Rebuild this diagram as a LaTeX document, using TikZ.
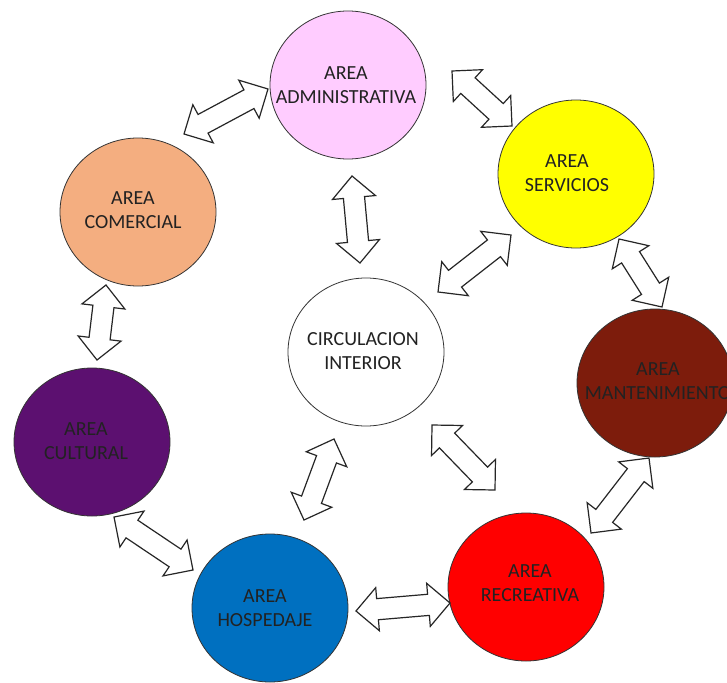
\documentclass[tikz,border=0pt]{standalone}
\usepackage{fontspec}
\setmainfont{Carlito}
\usetikzlibrary{shapes.geometric,shapes.arrows,calc}
\definecolor{cadm}{HTML}{FFCCFF}
\definecolor{cser}{HTML}{FFFF00}
\definecolor{ccom}{HTML}{F4AE80}
\definecolor{cman}{HTML}{7D1C0C}
\definecolor{ccul}{HTML}{5C1070}
\definecolor{crec}{HTML}{FF0000}
\definecolor{chos}{HTML}{0070C0}
\definecolor{ctxt}{HTML}{222222}
\newcommand\darr[3]{\path let \p1=($(#3)-(#2)$), \n1={veclen(\x1,\y1)} in (#2) -- node[darrow, minimum height=\n1] (#1) {} (#3);}
\begin{document}
\begin{tikzpicture}[x=1pt,y=-1pt,
  area/.style={ellipse, draw=black!80, line width=0.8pt, minimum width=156pt, minimum height=148pt, inner sep=0pt},
  lbl/.style={align=center, text=ctxt, font=\fontsize{20}{24}\selectfont, inner sep=0pt},
  darrow/.style={double arrow, draw=black!85, fill=white, line width=1.2pt, inner xsep=0pt, inner ysep=10pt,
    minimum width=0pt, double arrow head extend=11pt, double arrow tip angle=90, sloped, anchor=center}]
\fill[white] (0,0) rectangle (727,682);
\useasboundingbox (0,0) rectangle (727,682);
% circles
\node[area, fill=cadm] (adm) at (348,85) {};
\node[area, fill=cser] (ser) at (576,174) {};
\node[area, fill=ccom] (com) at (138,212) {};
\node[area, fill=white] (cir) at (366,352) {};
\node[area, fill=cman] (man) at (655,383) {};
\node[area, fill=ccul] (cul) at (92,442) {};
\node[area, fill=crec] (rec) at (526,587) {};
\node[area, fill=chos] (hos) at (270,608) {};
% labels
\node[lbl] (adm-t) at (346,85) {AREA\\ADMINISTRATIVA};
\node[lbl] (ser-t) at (567,173) {AREA\\SERVICIOS};
\node[lbl] (com-t) at (133,210) {AREA\\COMERCIAL};
\node[lbl] (cir-t) at (363,351) {CIRCULACION\\INTERIOR};
\node[lbl] (man-t) at (658,381) {AREA\\MANTENIMIENTO};
\node[lbl] (cul-t) at (86,441) {AREA\\CULTURAL};
\node[lbl] (rec-t) at (530,583) {AREA\\RECREATIVA};
\node[lbl] (hos-t) at (265,608) {AREA\\HOSPEDAJE};
% arrow end points
\coordinate (a1s) at (184,134); \coordinate (a1e) at (268,89);
\coordinate (a2s) at (452,71);  \coordinate (a2e) at (512,126);
\coordinate (a3s) at (352,176); \coordinate (a3e) at (360,263);
\coordinate (a4s) at (438,292); \coordinate (a4e) at (511,235);
\coordinate (a5s) at (619,239); \coordinate (a5e) at (662,307);
\coordinate (a6s) at (432,425); \coordinate (a6e) at (495,490);
\coordinate (a7s) at (649,458); \coordinate (a7e) at (591,533);
\coordinate (a8s) at (334,439); \coordinate (a8e) at (304,520);
\coordinate (a9s) at (114,517); \coordinate (a9e) at (193,570);
\coordinate (a10s) at (356,611); \coordinate (a10e) at (450,603);
\coordinate (a11s) at (106,285); \coordinate (a11e) at (97,360);
% arrows
\darr{a1}{a1s}{a1e}
\darr{a2}{a2s}{a2e}
\darr{a3}{a3s}{a3e}
\darr{a4}{a4s}{a4e}
\darr{a5}{a5s}{a5e}
\darr{a6}{a6s}{a6e}
\darr{a7}{a7s}{a7e}
\darr{a8}{a8s}{a8e}
\darr{a9}{a9s}{a9e}
\darr{a10}{a10s}{a10e}
\darr{a11}{a11s}{a11e}
\end{tikzpicture}
\end{document}
